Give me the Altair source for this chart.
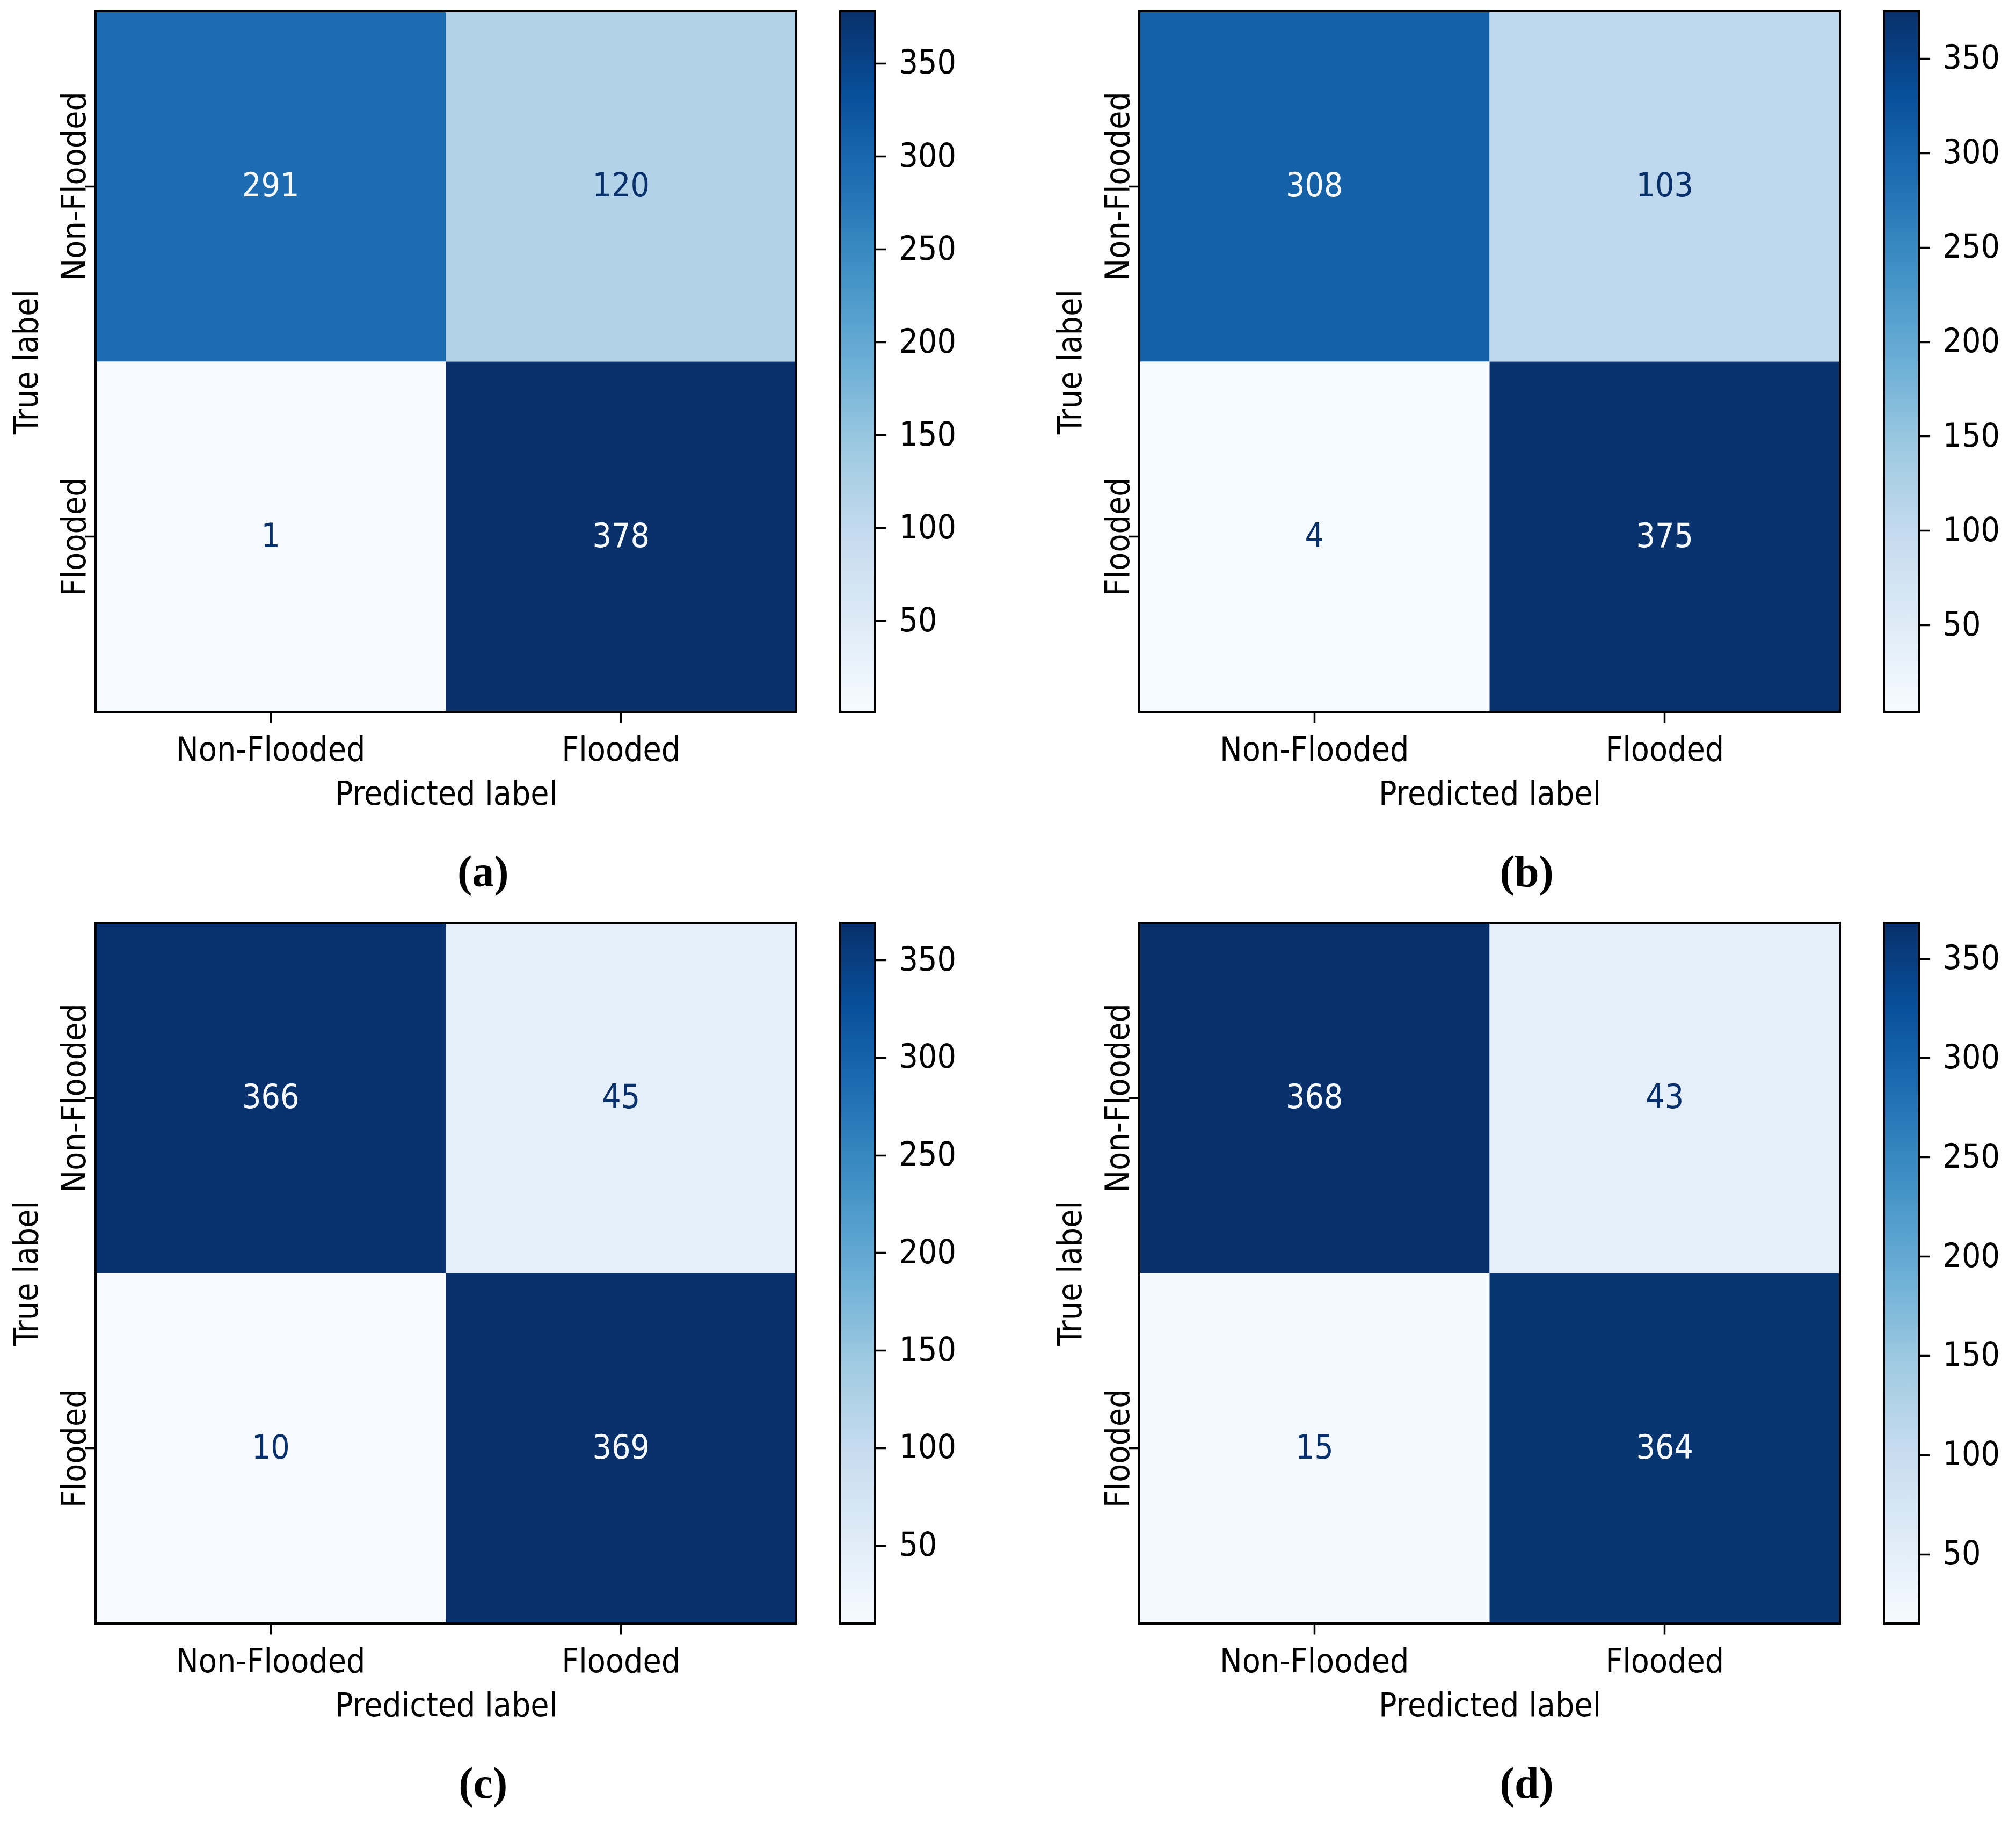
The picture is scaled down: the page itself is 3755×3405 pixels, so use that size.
import altair as alt
import pandas as pd

# ---- data ----
labels = ["Non-Flooded", "Flooded"]
panel_names = ["(a)", "(b)", "(c)", "(d)"]
# rows = true label, columns = predicted label
cm_a = [[291, 120], [1, 378]]
cm_b = [[308, 103], [4, 375]]
cm_c = [[366, 45], [10, 369]]
cm_d = [[368, 43], [15, 364]]
cbar_ticks = [50, 100, 150, 200, 250, 300, 350]

# matplotlib "Blues" colormap nodes
blues = ["#f7fbff", "#deebf7", "#c6dbef", "#9ecae1", "#6baed6",
         "#4292c6", "#2171b5", "#08519c", "#08306b"]

FONT = "DejaVu Sans Condensed"
FS = 62
PLOT = 1305
CBW = 65


def panel(cm, name):
    rows = []
    for i, t in enumerate(labels):
        for j, p in enumerate(labels):
            rows.append({"true": t, "pred": p, "value": cm[i][j]})
    df = pd.DataFrame(rows)
    vmin = int(df["value"].min())
    vmax = int(df["value"].max())
    thr = (vmin + vmax) / 2.0
    stops = [vmin + k * (vmax - vmin) / 8.0 for k in range(9)]

    xs = alt.Scale(paddingInner=0, paddingOuter=0)
    ys = alt.Scale(paddingInner=0, paddingOuter=0)
    x_enc = alt.X("pred:N", sort=labels, scale=xs,
                  axis=alt.Axis(title="Predicted label", orient="bottom",
                                labelAngle=0, labelBaseline="alphabetic",
                                labelPadding=70, tickSize=20, tickWidth=3.5,
                                labelLimit=0,
                                titleY=172, titleBaseline="alphabetic"))
    y_enc = alt.Y("true:N", sort=labels, scale=ys,
                  axis=alt.Axis(title="True label", orient="left",
                                labelAngle=270, labelAlign="center",
                                labelBaseline="alphabetic", labelPadding=0,
                                tickSize=20, tickWidth=3.5, labelLimit=0,
                                titleAngle=270, titleX=-109, titleY=PLOT / 2,
                                titleAlign="center", titleBaseline="alphabetic"))

    cells = alt.Chart(df).mark_rect().encode(
        x=x_enc, y=y_enc,
        color=alt.Color("value:Q",
                        scale=alt.Scale(domain=stops, range=blues, interpolate="rgb"),
                        legend=None),
    )
    text = alt.Chart(df).mark_text(font=FONT, fontSize=FS, baseline="middle").encode(
        x=alt.X("pred:N", sort=labels),
        y=alt.Y("true:N", sort=labels),
        text="value:Q",
        color=alt.condition(f"datum.value >= {thr}", alt.value(blues[0]), alt.value(blues[-1])),
    )
    border = alt.Chart(pd.DataFrame({"k": [0]})).mark_rect(
        fillOpacity=0, stroke="black", strokeWidth=4
    ).encode(x=alt.value(0), x2=alt.value(PLOT), y=alt.value(0), y2=alt.value(PLOT))

    heat = alt.layer(cells, text, border).properties(width=PLOT, height=PLOT)

    grad = alt.LinearGradient(
        gradient="linear",
        stops=[alt.GradientStop(color=c, offset=k / 8.0) for k, c in enumerate(blues)],
        x1=0, x2=0, y1=1, y2=0,
    )
    cb_df = pd.DataFrame({"lo": [vmin], "hi": [vmax]})
    cbar = alt.Chart(cb_df).mark_rect(fill=grad, stroke="black", strokeWidth=4).encode(
        y=alt.Y("lo:Q", scale=alt.Scale(domain=[vmin, vmax], nice=False, zero=False),
                axis=alt.Axis(orient="right", values=cbar_ticks, title=None,
                              tickSize=20, tickWidth=3.5, labelPadding=24,
                              labelAlign="left", labelBaseline="middle",
                              domain=False, grid=False, labelFlush=False)),
        y2="hi:Q",
        x=alt.value(0), x2=alt.value(CBW),
    ).properties(width=CBW, height=PLOT)

    return alt.hconcat(heat, cbar, spacing=78).resolve_scale(y="independent").properties(
        title=alt.TitleParams(name, orient="bottom", anchor="middle", frame="bounds",
                              font="Liberation Serif", fontWeight="bold",
                              fontSize=82, offset=76, color="black")
    )


pa = panel(cm_a, panel_names[0])
pb = panel(cm_b, panel_names[1])
pc = panel(cm_c, panel_names[2])
pd_ = panel(cm_d, panel_names[3])

chart = alt.vconcat(
    alt.hconcat(pa, pb, spacing=182),
    alt.hconcat(pc, pd_, spacing=182),
    spacing=50,
).resolve_scale(color="independent").properties(
    padding={"left": 11, "top": 11, "right": 10, "bottom": 10},
    background="white",
).configure_view(stroke=None).configure_axis(
    labelFont=FONT, labelFontSize=FS, labelColor="black",
    titleFont=FONT, titleFontSize=FS, titleColor="black", titleFontWeight="normal",
    tickColor="black", domain=False, grid=False, labelOverlap=False,
)

chart.save("out.html", embed_options={"renderer": "svg", "actions": False})
